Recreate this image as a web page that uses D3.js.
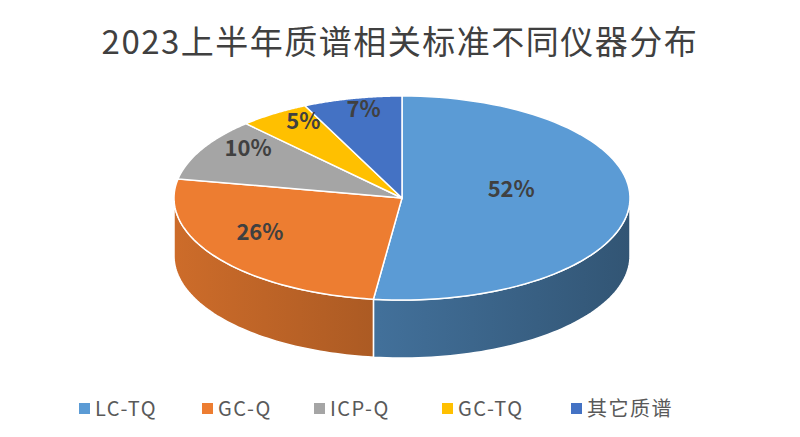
<!DOCTYPE html>
<html>
<head>
<meta charset="utf-8">
<script src="https://cdnjs.cloudflare.com/ajax/libs/d3/7.8.4/d3.min.js"></script>
<style>
  body { margin: 0; background: #fff; }
  text { font-family: "Noto Sans CJK SC", "Noto Sans", sans-serif; }
</style>
</head>
<body>
<div id="chart"></div>
<script>
const categories = ["LC-TQ", "GC-Q", "ICP-Q", "GC-TQ", "其它质谱"];
const values = [52, 26, 10, 5, 7];
const colors = ["#5b9bd5", "#ed7d31", "#a5a5a5", "#ffc000", "#4472c4"];
const title = "2023上半年质谱相关标准不同仪器分布";

(function(){
  const W = 800, H = 437;
  const cx = 402, cy = 198, rx = 228, ry = 102, depth = 58;

  const svg = d3.select("#chart").append("svg")
      .attr("width", W).attr("height", H);

  svg.append("text")
      .attr("x", W / 2).attr("y", 54)
      .attr("text-anchor", "middle")
      .style("font-size", "33px")
      .style("letter-spacing", "1.5px")
      .attr("fill", "#404040")
      .text(title);

  const data = categories.map((c, i) => ({ name: c, value: values[i], color: colors[i] }));
  const arcs = d3.pie().sort(null).value(d => d.value)(data);

  const px = a => cx + rx * Math.sin(a);
  const py = (a, dy) => cy - ry * Math.cos(a) + (dy || 0);

  const defs = svg.append("defs");
  arcs.forEach((d, i) => {
    const c = d3.color(d.data.color);
    const g = defs.append("linearGradient").attr("id", "g" + i)
        .attr("gradientUnits", "userSpaceOnUse")
        .attr("x1", cx - rx).attr("x2", cx + rx).attr("y1", 0).attr("y2", 0);
    g.append("stop").attr("offset", "0%").attr("stop-color", c.darker(0.4));
    g.append("stop").attr("offset", "100%").attr("stop-color", c.darker(1.7));
  });

  // side walls (only front half visible)
  arcs.forEach((d, i) => {
    const a0 = Math.max(d.startAngle, Math.PI / 2);
    const a1 = Math.min(d.endAngle, 3 * Math.PI / 2);
    if (a1 <= a0) return;
    const n = 60, top = [], bot = [];
    for (let k = 0; k <= n; k++) {
      const a = a0 + (a1 - a0) * k / n;
      top.push([px(a), py(a)]);
      bot.push([px(a), py(a, depth)]);
    }
    const pts = top.concat(bot.reverse());
    svg.append("path")
        .attr("d", "M" + pts.map(p => p.join(",")).join("L") + "Z")
        .attr("fill", "url(#g" + i + ")")
        .attr("stroke", "#fff").attr("stroke-width", 1.5);
  });

  // top faces
  arcs.forEach(d => {
    const n = 80, pts = [[cx, cy]];
    for (let k = 0; k <= n; k++) {
      const a = d.startAngle + (d.endAngle - d.startAngle) * k / n;
      pts.push([px(a), py(a)]);
    }
    svg.append("path")
        .attr("d", "M" + pts.map(p => p.join(",")).join("L") + "Z")
        .attr("fill", d.data.color)
        .attr("stroke", "#fff").attr("stroke-width", 1.5);
  });

  // labels
  arcs.forEach(d => {
    const m = (d.startAngle + d.endAngle) / 2;
    const f = d.data.value > 40 ? 0.48 : 0.77;
    svg.append("text")
        .attr("x", cx + rx * f * Math.sin(m))
        .attr("y", cy - 12 - ry * f * Math.cos(m))
        .attr("dy", "0.35em")
        .attr("text-anchor", "middle")
        .style("font-size", "22px").style("font-weight", "bold")
        .attr("fill", "#404040")
        .text(d.data.value + "%");
  });

  // legend
  const legendX = [95, 218, 330, 458, 587];
  const lg = svg.append("g");
  data.forEach((d, i) => {
    lg.append("rect")
        .attr("x", legendX[i] - 16).attr("y", 403)
        .attr("width", 11).attr("height", 11)
        .attr("fill", d.color);
    lg.append("text")
        .attr("x", legendX[i]).attr("y", 409)
        .attr("dy", "0.35em")
        .style("font-size", "20px")
        .style("letter-spacing", "1.5px")
        .attr("fill", "#595959")
        .text(d.name);
  });
})();
</script>
</body>
</html>
